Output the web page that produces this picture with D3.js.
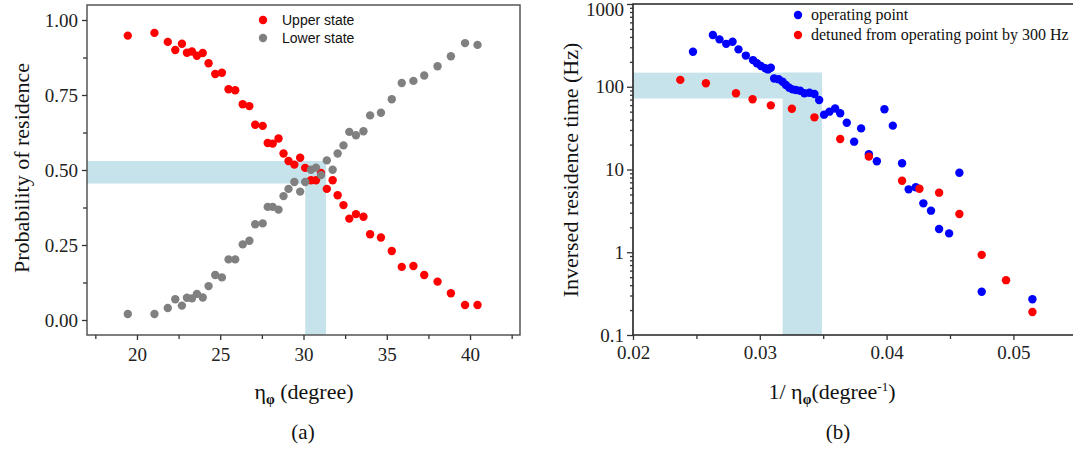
<!DOCTYPE html>
<html><head><meta charset="utf-8">
<script src="https://cdn.jsdelivr.net/npm/d3@7"></script>
<style>body{margin:0;background:#fff}svg{display:block}
.serif{font-family:'Liberation Serif','DejaVu Serif',serif}
.sans{font-family:'Liberation Sans',Arial,sans-serif}
</style>
</head><body>
<svg id="c" width="1073" height="449"></svg>
<script>
// ---------- Data: panel (a) ----------
const eta = [19.45,21.05,21.85,22.3,22.7,23.0,23.3,23.6,23.95,24.3,24.7,25.1,25.5,25.9,26.35,26.75,27.1,27.55,27.85,28.15,28.5,28.8,29.1,29.45,29.8,30.1,30.45,30.75,31.05,31.4,31.75,32.05,32.4,32.75,33.15,33.6,34.0,34.65,35.3,35.9,36.6,37.25,38.05,38.85,39.7,40.45];
const upperState = [0.948,0.957,0.927,0.900,0.921,0.891,0.895,0.881,0.890,0.856,0.820,0.824,0.769,0.766,0.719,0.713,0.651,0.647,0.590,0.588,0.605,0.555,0.530,0.518,0.541,0.507,0.466,0.466,0.490,0.437,0.466,0.416,0.383,0.338,0.353,0.344,0.286,0.275,0.230,0.177,0.180,0.150,0.128,0.089,0.050,0.050];
const lowerState = [0.020,0.020,0.040,0.069,0.048,0.074,0.072,0.087,0.075,0.113,0.150,0.142,0.202,0.202,0.252,0.264,0.319,0.322,0.377,0.377,0.368,0.413,0.437,0.460,0.428,0.460,0.501,0.508,0.483,0.532,0.501,0.555,0.582,0.627,0.616,0.629,0.682,0.691,0.736,0.790,0.797,0.815,0.846,0.879,0.923,0.917];
const aYTicks = [0, 0.25, 0.5, 0.75, 1.0];
const aXTicks = [20, 25, 30, 35, 40];
const aBandX = [30.1, 31.35];
const aBandY = [0.455, 0.53];

// ---------- Data: panel (b) ----------
const invEtaOp = [0.02473,0.0263,0.02682,0.02735,0.02785,0.02832,0.0289,0.02946,0.02977,0.03009,0.03043,0.03065,0.03087,0.03113,0.03148,0.0318,0.03206,0.03232,0.03258,0.03285,0.03318,0.03352,0.03392,0.03431,0.03468,0.03507,0.03549,0.03594,0.03634,0.03686,0.03744,0.03799,0.0386,0.03923,0.03983,0.04049,0.04122,0.04174,0.0423,0.0429,0.0435,0.04414,0.04493,0.04574,0.0475,0.0515];
const rateOp = [265,422,374,330,350,283,238,210,192,178,167,162,170,126,123,115,105,97.5,93,91.5,89.6,83.4,84.7,81.7,69.2,46,50,54.5,47.8,36.8,21.7,31.4,15.3,12.6,53.4,33.9,11.9,5.76,6.1,3.9,3.18,1.91,1.69,9.15,0.333,0.27];
const invEtaDet = [0.02373,0.02575,0.02812,0.02943,0.03087,0.03253,0.03431,0.03634,0.0386,0.04122,0.04259,0.04414,0.04574,0.0475,0.04942,0.0515];
const rateDet = [121,110,83.4,70.5,59.6,54.3,42.7,23.4,14.3,7.3,5.85,5.25,2.9,0.93,0.46,0.19];
const bYTicks = [0.1, 1, 10, 100, 1000];
const bXTicks = [0.02, 0.03, 0.04, 0.05];
const bBandX = [0.0318, 0.0349];
const bBandY = [72, 148];

const svg = d3.select('#c');
const shade = '#c6e3ec';

// ================= Panel (a) =================
const ax = d3.scaleLinear().domain([17, 43]).range([87, 520]);
const ay = d3.scaleLinear().domain([-0.05, 1.05]).range([335, 5]);
const ga = svg.append('g');

ga.append('rect').attr('x', ax(17)).attr('y', ay(aBandY[1]))
  .attr('width', ax(aBandX[1]) - ax(17)).attr('height', ay(aBandY[0]) - ay(aBandY[1])).attr('fill', shade);
ga.append('rect').attr('x', ax(aBandX[0])).attr('y', ay(aBandY[1]))
  .attr('width', ax(aBandX[1]) - ax(aBandX[0])).attr('height', ay(-0.05) - ay(aBandY[1])).attr('fill', shade);

ga.append('rect').attr('x', 87).attr('y', 5).attr('width', 433).attr('height', 330)
  .attr('fill', 'none').attr('stroke', '#555').attr('stroke-width', 1.5);

function styleAxis(g, size){
  g.attr('font-family', null);
  g.selectAll('.domain').remove();
  g.selectAll('.tick line').attr('stroke', '#333').attr('stroke-width', 1.3);
  g.selectAll('.tick text').attr('class', 'serif').attr('font-size', size).attr('fill', '#222');
}
const ayAxis = ga.append('g').attr('transform', 'translate(87,0)')
  .call(d3.axisLeft(ay).tickValues(aYTicks).tickFormat(d3.format('.2f')).tickSize(5).tickPadding(4));
styleAxis(ayAxis, 19);
const ayMinor = ga.append('g').attr('transform', 'translate(87,0)')
  .call(d3.axisLeft(ay).tickValues([0.125,0.375,0.625,0.875]).tickFormat('').tickSize(4));
styleAxis(ayMinor, 0);
const axAxis = ga.append('g').attr('transform', 'translate(0,335)')
  .call(d3.axisBottom(ax).tickValues(aXTicks).tickSize(5).tickPadding(8));
styleAxis(axAxis, 19);
const axMinor = ga.append('g').attr('transform', 'translate(0,335)')
  .call(d3.axisBottom(ax).tickValues([17.5,22.5,27.5,32.5,37.5,42.5]).tickFormat('').tickSize(4));
styleAxis(axMinor, 0);

ga.append('g').selectAll('circle').data(eta).join('circle')
  .attr('cx', d => ax(d)).attr('cy', (d, i) => ay(upperState[i])).attr('r', 4.2).attr('fill', '#ff0000');
ga.append('g').selectAll('circle').data(eta).join('circle')
  .attr('cx', d => ax(d)).attr('cy', (d, i) => ay(lowerState[i])).attr('r', 4.2).attr('fill', '#808080');

const la = [['Upper state', '#ff0000'], ['Lower state', '#808080']];
la.forEach((l, i) => {
  ga.append('circle').attr('cx', 263).attr('cy', 20 + i * 18).attr('r', 4.2).attr('fill', l[1]);
  ga.append('text').attr('class', 'sans').attr('x', 282).attr('y', 25 + i * 18).attr('font-size', 14).attr('fill', '#111').text(l[0]);
});

ga.append('text').attr('class', 'serif').attr('transform', 'translate(29,168) rotate(-90)').attr('text-anchor', 'middle')
  .attr('font-size', 22).attr('fill', '#111').text('Probability  of  residence');
const xla = ga.append('text').attr('class', 'serif').attr('x', 304).attr('y', 399).attr('text-anchor', 'middle')
  .attr('font-size', 22).attr('fill', '#111');
xla.append('tspan').text('η');
xla.append('tspan').attr('font-size', 14).attr('font-weight', 'bold').attr('dy', 5).text('φ');
xla.append('tspan').attr('dy', -5).text(' (degree)');
ga.append('text').attr('class', 'serif').attr('x', 303).attr('y', 439).attr('text-anchor', 'middle')
  .attr('font-size', 21).attr('fill', '#111').text('(a)');

// ================= Panel (b) =================
const bx = d3.scaleLinear().domain([0.02, 0.0547]).range([633, 1073]);
const by = d3.scaleLog().domain([0.1, 1000]).range([335, 4]);
const gb = svg.append('g');

gb.append('rect').attr('x', bx(0.02)).attr('y', by(bBandY[1]))
  .attr('width', bx(bBandX[1]) - bx(0.02)).attr('height', by(bBandY[0]) - by(bBandY[1])).attr('fill', shade);
gb.append('rect').attr('x', bx(bBandX[0])).attr('y', by(bBandY[1]))
  .attr('width', bx(bBandX[1]) - bx(bBandX[0])).attr('height', by(0.1) - by(bBandY[1])).attr('fill', shade);

gb.append('path').attr('d', `M633,335V4H1073M633,335H1073`).attr('fill', 'none').attr('stroke', '#222').attr('stroke-width', 1.6);

const byAxis = gb.append('g').attr('transform', 'translate(633,0)')
  .call(d3.axisLeft(by).tickValues(bYTicks).tickFormat(d => String(d)).tickSize(6).tickPadding(3));
styleAxis(byAxis, 19);
byAxis.selectAll('.tick text').filter(d => d === 1000).attr('dy', '0.6em');
const minorLog = [];
[0.1, 1, 10, 100].forEach(b => { for (let k = 2; k <= 9; k++) minorLog.push(b * k); });
const byMinor = gb.append('g').attr('transform', 'translate(633,0)')
  .call(d3.axisLeft(by).tickValues(minorLog).tickFormat('').tickSize(3));
styleAxis(byMinor, 0);
const bxAxis = gb.append('g').attr('transform', 'translate(0,335)')
  .call(d3.axisBottom(bx).tickValues(bXTicks).tickFormat(d3.format('.2f')).tickSize(5).tickPadding(6));
styleAxis(bxAxis, 19);
const bxMinor = gb.append('g').attr('transform', 'translate(0,335)')
  .call(d3.axisBottom(bx).tickValues([0.025, 0.035, 0.045]).tickFormat('').tickSize(4));
styleAxis(bxMinor, 0);

gb.append('g').selectAll('circle').data(invEtaOp).join('circle')
  .attr('cx', d => bx(d)).attr('cy', (d, i) => by(rateOp[i])).attr('r', 4.2).attr('fill', '#0000ff');
gb.append('g').selectAll('circle').data(invEtaDet).join('circle')
  .attr('cx', d => bx(d)).attr('cy', (d, i) => by(rateDet[i])).attr('r', 4.2).attr('fill', '#ff0000');

const lb = [['operating point', '#0000ff'], ['detuned from operating point by 300 Hz', '#ff0000']];
lb.forEach((l, i) => {
  gb.append('circle').attr('cx', 798).attr('cy', 15 + i * 20).attr('r', 4.2).attr('fill', l[1]);
  gb.append('text').attr('class', 'serif').attr('x', 811).attr('y', 20 + i * 20).attr('font-size', 16).attr('fill', '#111').text(l[0]);
});

gb.append('text').attr('class', 'serif').attr('transform', 'translate(578,170) rotate(-90)').attr('text-anchor', 'middle')
  .attr('font-size', 22).attr('fill', '#111').text('Inversed  residence  time (Hz)');
const xlb = gb.append('text').attr('class', 'serif').attr('x', 832).attr('y', 399).attr('text-anchor', 'middle')
  .attr('font-size', 22).attr('fill', '#111');
xlb.append('tspan').text('1/ η');
xlb.append('tspan').attr('font-size', 14).attr('font-weight', 'bold').attr('dy', 5).text('φ');
xlb.append('tspan').attr('dy', -5).text('(degree');
xlb.append('tspan').attr('font-size', 13).attr('dy', -8).text('-1');
xlb.append('tspan').attr('dy', 8).text(')');
gb.append('text').attr('class', 'serif').attr('x', 838).attr('y', 439).attr('text-anchor', 'middle')
  .attr('font-size', 21).attr('fill', '#111').text('(b)');
</script>
</body></html>
